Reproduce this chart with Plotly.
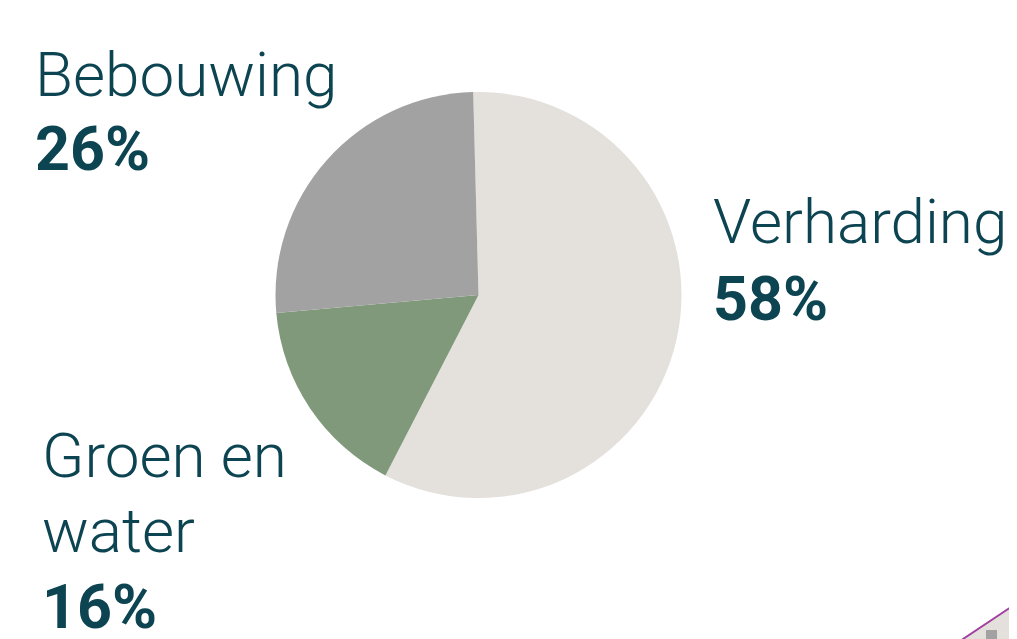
import plotly.graph_objects as go

categories = ["Verharding", "Groen en water", "Bebouwing"]
label_lines = [["Verharding"], ["Groen en", "water"], ["Bebouwing"]]
percentages = [58, 16, 26]
colors = ["#E4E0DC", "#7F997A", "#A3A2A3"]
text_color = "#0D4452"

W, H = 1017, 639
FS = 62

cx, cy, r = 470.5, 287, 203

fig = go.Figure(go.Pie(
    labels=categories,
    values=percentages,
    sort=False,
    direction="clockwise",
    rotation=-1.5,
    marker=dict(colors=colors, line=dict(width=0)),
    textinfo="none",
    hoverinfo="label+percent",
    showlegend=False,
    domain=dict(x=[(cx - r) / W, (cx + r) / W],
                y=[1 - (cy + r) / H, 1 - (cy - r) / H]),
))

# label positions in figure pixels: left x, baselines for each line, baseline of percentage
label_pos = [
    (703, [237], 314),
    (32, [471, 546], 622),
    (25, [90], 165),
]

DESC = 14.5

def yb(px_baseline):
    return 1 - (px_baseline + DESC) / H

annotations = []
for (x0, bases, pbase), lines, pct in zip(label_pos, label_lines, percentages):
    for ln, b in zip(lines, bases):
        annotations.append(dict(
            x=x0 / W, y=yb(b), xref="paper", yref="paper",
            xanchor="left", yanchor="bottom", showarrow=False,
            text=ln, font=dict(family="Roboto", size=FS, color=text_color, weight=300),
        ))
    annotations.append(dict(
        x=(x0 + 0) / W, y=yb(pbase), xref="paper", yref="paper",
        xanchor="left", yanchor="bottom", showarrow=False,
        text=f"{pct}%", font=dict(family="Roboto", size=FS - 1, color=text_color, weight=700),
    ))

def px(x, y):
    return f"{x / W} {1 - y / H}"

shapes = [
    dict(type="path", xref="paper", yref="paper",
         path=f"M {px(943, 639)} L {px(1017, 589.7)} L {px(1017, 639)} Z",
         fillcolor="#E4E0DC", line=dict(color="#A040A0", width=2)),
    dict(type="rect", xref="paper", yref="paper",
         x0=978 / W, x1=989 / W, y0=0, y1=1 - 622 / H,
         fillcolor="#A3A2A3", line=dict(width=0)),
]

fig.update_layout(
    width=W, height=H,
    margin=dict(l=0, r=0, t=0, b=0),
    paper_bgcolor="white", plot_bgcolor="white",
    annotations=annotations, shapes=shapes,
)

fig.write_html("out.html")
